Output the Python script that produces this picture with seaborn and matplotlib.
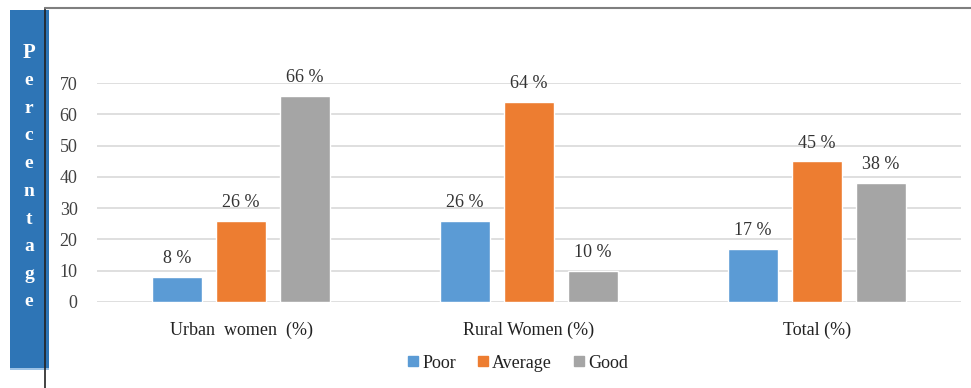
import matplotlib
matplotlib.use("Agg")
import matplotlib.pyplot as plt
import matplotlib.patches as mpatches
import matplotlib.lines as mlines
import seaborn as sns
import pandas as pd

categories = ["Urban  women  (%)", "Rural Women (%)", "Total (%)"]
series = ["Poor", "Average", "Good"]
poor = [8, 26, 17]
average = [26, 64, 45]
good = [66, 10, 38]
yticks = [0, 10, 20, 30, 40, 50, 60, 70]
colors = ["#5B9BD5", "#ED7D31", "#A5A5A5"]
side_label = "Percentage"

rows = []
for s, vals in zip(series, [poor, average, good]):
    for c, v in zip(categories, vals):
        rows.append({"category": c, "series": s, "value": v})
df = pd.DataFrame(rows)

sns.set_theme(style="white")
plt.rcParams["font.family"] = ["Liberation Serif", "DejaVu Serif"]

W, H = 971, 388
fig = plt.figure(figsize=(W / 100, H / 100), dpi=100)
fig.patch.set_facecolor("white")

ax_left, ax_right = 97, 961
y0_px, y70_px = 302, 83
ax = fig.add_axes([ax_left / W, 1 - y0_px / H, (ax_right - ax_left) / W, (y0_px - y70_px) / H])

sns.barplot(data=df, x="category", y="value", hue="series", hue_order=series,
            palette=colors, width=0.667, gap=0.22, ax=ax, legend=False,
            saturation=1, errorbar=None)

ax.set_xlim(-0.5, 2.5)
ax.set_ylim(0, 70)
ax.set_yticks(yticks)
ax.set_yticklabels([str(t) for t in yticks], fontsize=13, color="#404040")
ax.set_xlabel("")
ax.set_ylabel("")
ax.tick_params(axis="y", length=0, pad=14)
ax.tick_params(axis="x", length=0, pad=14, labelsize=13, labelcolor="#222222")
for t in yticks:
    ax.axhline(t, color="#D9D9D9", lw=1.2, zorder=0)
for sp in ax.spines.values():
    sp.set_visible(False)

for cont in ax.containers:
    for bar in cont:
        h = bar.get_height()
        ax.text(bar.get_x() + bar.get_width() / 2, h + 3.1, f"{int(round(h))} %",
                ha="center", va="bottom", fontsize=13, color="#333333", clip_on=False)

# Legend
handles = [mlines.Line2D([], [], marker="s", linestyle="none", markersize=7,
                         markerfacecolor=c, markeredgecolor=c, label=s)
           for s, c in zip(series, colors)]
fig.legend(handles=handles, loc="center", bbox_to_anchor=(516 / W, 1 - 363 / H),
           ncol=3, frameon=False, prop={"family": "Liberation Serif", "size": 13},
           handletextpad=0.0, columnspacing=1.0, handlelength=1.0, labelcolor="#222222")

# Side box with vertical letters
box = mpatches.Rectangle((10 / W, 1 - 369 / H), 39 / W, 359 / H, transform=fig.transFigure,
                         facecolor="#2E75B6", edgecolor="none", zorder=1)
fig.patches.append(box)
bottom_edge = mpatches.Rectangle((10 / W, 1 - 370 / H), 39 / W, 2 / H, transform=fig.transFigure,
                                 facecolor="#9DC3E6", edgecolor="none", zorder=1)
fig.patches.append(bottom_edge)
n = len(side_label)
for i, ch in enumerate(side_label):
    y = 53 + i * (302 - 53) / (n - 1)
    fig.text(29 / W, 1 - y / H, ch, ha="center", va="center", color="white",
             fontsize=15 if i == 0 else 14, fontweight="bold", zorder=3)

# Frame lines
fig.add_artist(mlines.Line2D([45 / W, 45 / W], [0, 1 - 8 / H], transform=fig.transFigure,
                             color="#222222", lw=1.2, zorder=4))
fig.add_artist(mlines.Line2D([45 / W, 1], [1 - 8 / H, 1 - 8 / H], transform=fig.transFigure,
                             color="#7F7F7F", lw=1.5, zorder=4))

fig.savefig("out.png", dpi=100, facecolor="white")
